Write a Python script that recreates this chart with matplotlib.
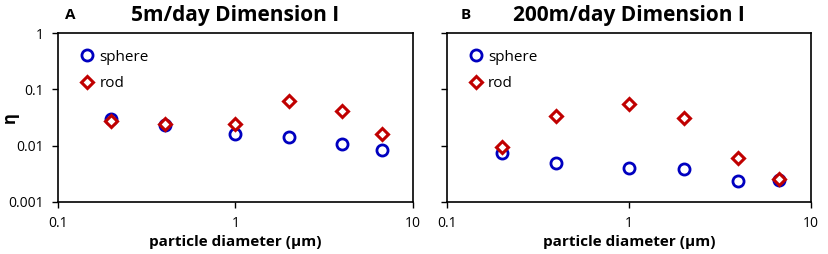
import matplotlib
matplotlib.use("Agg")
import matplotlib.pyplot as plt

plt.rcParams['font.family'] = ['Open Sans', 'DejaVu Sans']

# Data
diam = [0.2, 0.4, 1.0, 2.0, 4.0, 6.7]
sphere_5 = [0.030, 0.0235, 0.016, 0.0144, 0.0107, 0.0083]
rod_5 = [0.0278, 0.024, 0.0246, 0.063, 0.041, 0.0163]
sphere_200 = [0.0074, 0.0049, 0.0040, 0.0039, 0.0024, 0.0025]
rod_200 = [0.0096, 0.034, 0.0556, 0.031, 0.0060, 0.0026]
titles = ['5m/day Dimension I', '200m/day Dimension I']
letters = ['A', 'B']

BLUE = '#0000C0'
RED = '#C00000'

fig = plt.figure(figsize=(8.29, 2.54), dpi=100)
ax_l = fig.add_axes([0.070, 0.205, 0.428, 0.665])
ax_r = fig.add_axes([0.539, 0.205, 0.439, 0.665])

panels = [(ax_l, sphere_5, rod_5), (ax_r, sphere_200, rod_200)]
for i, (ax, sph, rod) in enumerate(panels):
    ax.plot(diam, sph, linestyle='none', marker='o', markersize=8,
            markerfacecolor='white', markeredgecolor=BLUE, markeredgewidth=2,
            label='sphere')
    ax.plot(diam, rod, linestyle='none', marker='D', markersize=6.5,
            markerfacecolor='white', markeredgecolor=RED, markeredgewidth=2.2,
            label='rod')
    ax.set_xscale('log')
    ax.set_yscale('log')
    ax.set_xlim(0.1, 10)
    ax.set_ylim(0.001, 1)
    ax.set_xticks([0.1, 1, 10])
    ax.set_yticks([0.001, 0.01, 0.1, 1])
    ax.minorticks_off()
    ax.tick_params(direction='out', length=4, width=1, labelsize=10, pad=6)
    for s in ax.spines.values():
        s.set_linewidth(1.2)
    ax.set_xticklabels(['0.1', '1', '10'])
    if i == 0:
        ax.set_yticklabels(['0.001', '0.01', '0.1', '1'])
        ax.set_ylabel('η', fontsize=12, fontweight='bold')
        ax.yaxis.set_label_coords(-0.11, 0.5)
    else:
        ax.set_yticklabels([])
    ax.set_xlabel('particle diameter (µm)', fontsize=11, fontweight='bold', labelpad=3)
    ax.set_title(titles[i], fontsize=15, fontweight='bold', pad=9)
    ax.legend(loc='upper left', frameon=False, fontsize=11, handletextpad=0.0,
              handlelength=1.6, labelspacing=0.75, borderaxespad=0.7)

fig.text(0.078, 0.94, letters[0], fontsize=11, fontweight='bold', va='center')
fig.text(0.556, 0.94, letters[1], fontsize=11, fontweight='bold', va='center')

fig.savefig('out.png', dpi=100)
